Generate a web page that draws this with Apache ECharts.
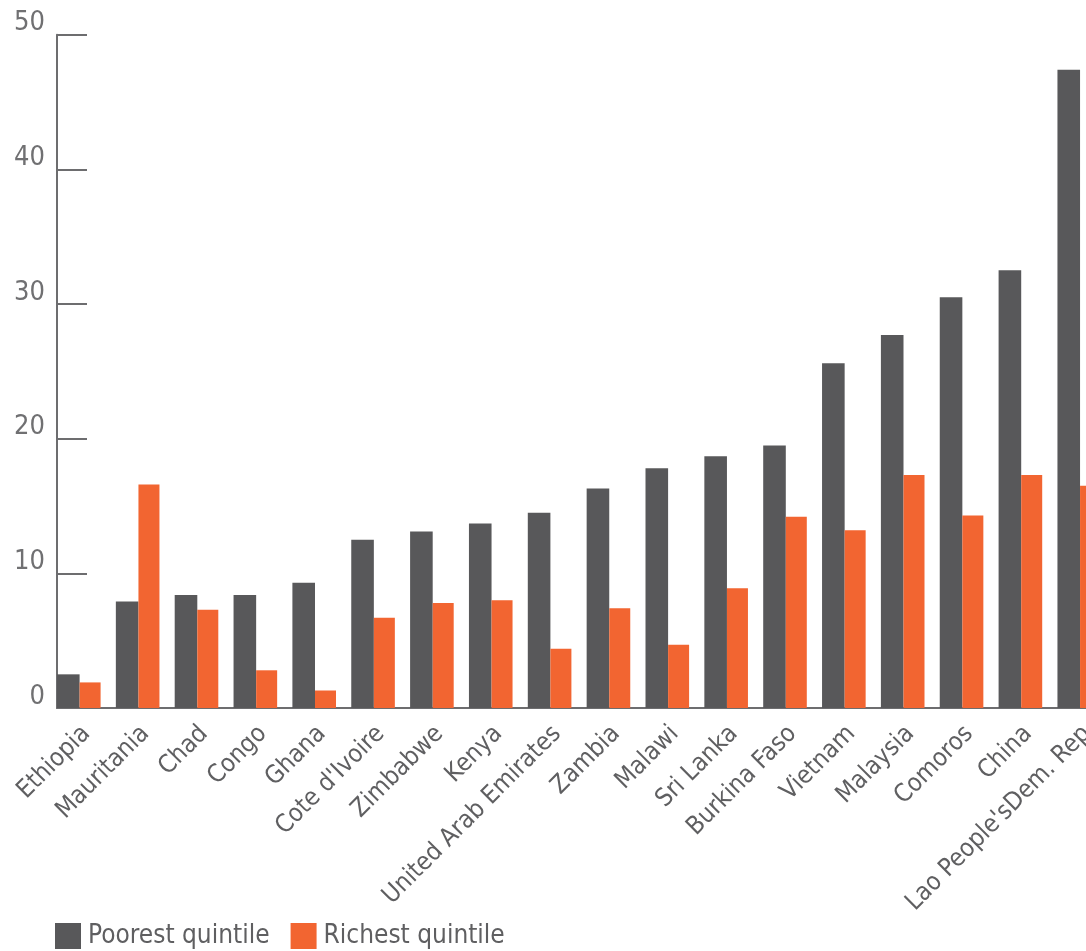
<!DOCTYPE html>
<html>
<head>
<meta charset="utf-8">
<script src="https://cdn.jsdelivr.net/npm/echarts@6/dist/echarts.min.js"></script>
<style>
  html, body { margin: 0; padding: 0; background: #ffffff; }
  #chart { width: 1086px; height: 951px; }
</style>
</head>
<body>
<div id="chart"></div>
<script>
const categories = ["Ethiopia", "Mauritania", "Chad", "Congo", "Ghana", "Cote d'Ivoire", "Zimbabwe", "Kenya", "United Arab Emirates", "Zambia", "Malawi", "Sri Lanka", "Burkina Faso", "Vietnam", "Malaysia", "Comoros", "China", "Lao People'sDem. Rep"];
const poorest = [2.5, 7.9, 8.4, 8.4, 9.3, 12.5, 13.1, 13.7, 14.5, 16.3, 17.8, 18.7, 19.5, 25.6, 27.7, 30.5, 32.5, 47.4];
const richest = [1.9, 16.6, 7.3, 2.8, 1.3, 6.7, 7.8, 8.0, 4.4, 7.4, 4.7, 8.9, 14.2, 13.2, 17.3, 14.3, 17.3, 16.5];
const yTicks = [0, 10, 20, 30, 40, 50];
const seriesNames = ["Poorest quintile", "Richest quintile"];

const FONT = "'DejaVu Sans Condensed', 'Liberation Sans Narrow', sans-serif";
const chart = echarts.init(document.getElementById('chart'), null, { renderer: 'canvas' });
chart.setOption({
  animation: false,
  backgroundColor: '#ffffff',
  grid: { left: 57, right: -30.3, top: 34.7, bottom: 243, containLabel: false, outerBoundsMode: 'none' },
  legend: {
    data: seriesNames,
    left: 55, top: 923, padding: 0,
    itemWidth: 26, itemHeight: 26, itemGap: 21,
    icon: 'rect',
    textStyle: { fontFamily: FONT, fontSize: 26, color: '#5f5f61', padding: [0, 0, 0, 2] }
  },
  xAxis: {
    type: 'category',
    data: categories,
    boundaryGap: true,
    axisLine: { lineStyle: { color: '#6d6d6f', width: 2 } },
    axisTick: { show: false },
    axisLabel: {
      rotate: 45, interval: 0, margin: 22,
      fontFamily: FONT, fontSize: 25, color: '#5f5f61'
    }
  },
  yAxis: {
    type: 'value',
    min: yTicks[0], max: yTicks[yTicks.length - 1], interval: 10,
    axisLine: { show: true, lineStyle: { color: '#6d6d6f', width: 2 } },
    axisTick: { show: true, inside: true, length: 30, lineStyle: { color: '#6d6d6f', width: 2 } },
    splitLine: { show: false },
    axisLabel: {
      margin: 12, fontFamily: FONT, fontSize: 27, color: '#707072',
      verticalAlign: 'bottom', lineHeight: 23
    }
  },
  series: [
    {
      name: seriesNames[0], type: 'bar', data: poorest,
      barWidth: 22.6, barGap: 0, barCategoryGap: 0,
      itemStyle: { color: '#58585a' }
    },
    {
      name: seriesNames[1], type: 'bar', data: richest,
      barWidth: 21, barGap: 0,
      itemStyle: { color: '#f26531' }
    },
    {
      name: 'spacer', type: 'bar', data: categories.map(() => 0),
      barWidth: 15.25, barGap: 0, silent: true,
      itemStyle: { color: 'rgba(0,0,0,0)' }
    }
  ],
  color: ['#58585a', '#f26531']
});
</script>
</body>
</html>
